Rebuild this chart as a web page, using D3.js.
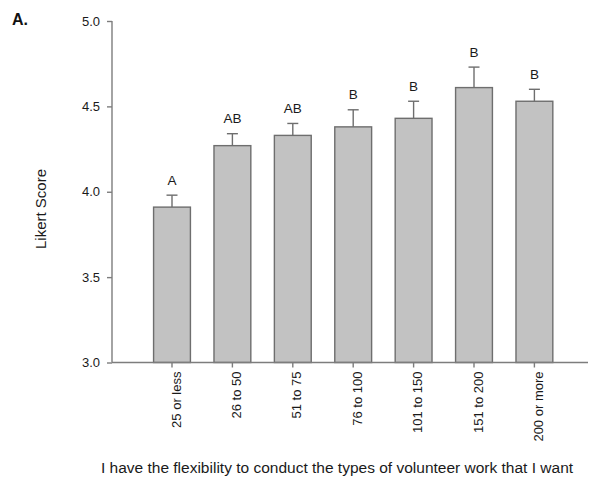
<!DOCTYPE html>
<html>
<head>
<meta charset="utf-8">
<script src="https://cdn.jsdelivr.net/npm/d3@7"></script>
<style>
  html, body { margin: 0; padding: 0; background: #fff; }
  svg { display: block; font-family: "Liberation Sans", Arial, sans-serif; }
</style>
</head>
<body>
<svg id="chart" width="592" height="478"></svg>
<script>
// Hours volunteered per year (groups) and mean Likert score with SE
const categories = ["25 or less", "26 to 50", "51 to 75", "76 to 100", "101 to 150", "151 to 200", "200 or more"];
const means      = [3.91, 4.27, 4.33, 4.38, 4.43, 4.61, 4.53];
const errors     = [0.07, 0.07, 0.07, 0.10, 0.10, 0.12, 0.07];
const groups     = ["A", "AB", "AB", "B", "B", "B", "B"];
const yTicks     = [3.0, 3.5, 4.0, 4.5, 5.0];

const svg = d3.select("#chart");
const axisColor = "#7d7d7d";
const textColor = "#1a1a1a";

const y = d3.scaleLinear().domain([3.0, 5.0]).range([362.5, 21]);
const x = d3.scaleBand().domain(categories).range([141.8, 564.6])
  .paddingInner(0.39).paddingOuter(0.195);

// Panel letter
svg.append("text").attr("x", 12).attr("y", 24.5)
  .attr("font-size", 16).attr("font-weight", "bold").attr("fill", "#111")
  .text("A.");

// Bars
svg.append("g").selectAll("rect").data(categories).join("rect")
  .attr("x", d => x(d))
  .attr("y", (d, i) => y(means[i]))
  .attr("width", x.bandwidth())
  .attr("height", (d, i) => y(3.0) - y(means[i]))
  .attr("fill", "#c2c2c2")
  .attr("stroke", "#6e6e6e")
  .attr("stroke-width", 1.4);

// Upper error bars
const eb = svg.append("g").attr("stroke", "#6e6e6e").attr("stroke-width", 1.4);
categories.forEach((c, i) => {
  const cx = x(c) + x.bandwidth() / 2;
  eb.append("line").attr("x1", cx).attr("x2", cx)
    .attr("y1", y(means[i])).attr("y2", y(means[i] + errors[i]));
  eb.append("line").attr("x1", cx - 5.5).attr("x2", cx + 5.5)
    .attr("y1", y(means[i] + errors[i])).attr("y2", y(means[i] + errors[i]));
});

// Significance group letters
svg.append("g").selectAll("text").data(categories).join("text")
  .attr("x", d => x(d) + x.bandwidth() / 2)
  .attr("y", (d, i) => y(means[i] + errors[i]) - 10.5)
  .attr("text-anchor", "middle")
  .attr("font-size", 13.5)
  .attr("fill", textColor)
  .text((d, i) => groups[i]);

// Y axis
const yAxis = svg.append("g").attr("transform", "translate(112,0)")
  .call(d3.axisLeft(y).tickValues(yTicks).tickFormat(d3.format(".1f"))
    .tickSize(5).tickPadding(7));
yAxis.select(".domain").attr("stroke", axisColor).attr("stroke-width", 1.4).attr("d", `M0,${y(5.0)}V${y(3.0)}`);
yAxis.selectAll(".tick line").attr("stroke", axisColor).attr("stroke-width", 1.4);
yAxis.selectAll(".tick text").attr("font-size", 13).attr("fill", textColor)
  .attr("font-family", "Liberation Sans, Arial, sans-serif");

// X axis
const xAxis = svg.append("g").attr("transform", `translate(0,${y(3.0)})`)
  .call(d3.axisBottom(x).tickSize(5).tickSizeOuter(0));
xAxis.select(".domain").attr("stroke", axisColor).attr("stroke-width", 1.4).attr("d", "M112,0H588");
xAxis.selectAll(".tick line").attr("stroke", axisColor).attr("stroke-width", 1.4);
xAxis.selectAll(".tick text")
  .attr("font-size", 13).attr("fill", textColor)
  .attr("font-family", "Liberation Sans, Arial, sans-serif")
  .attr("text-anchor", "end")
  .attr("transform", "rotate(-90)")
  .attr("x", -9).attr("y", 4).attr("dy", "0.35em")
  .attr("dx", 0);

// Axis titles
svg.append("text")
  .attr("transform", "translate(46,209) rotate(-90)")
  .attr("text-anchor", "middle").attr("font-size", 15).attr("fill", textColor)
  .text("Likert Score");

svg.append("text")
  .attr("x", 337).attr("y", 473)
  .attr("text-anchor", "middle").attr("font-size", 15.5).attr("fill", textColor)
  .text("I have the flexibility to conduct the types of volunteer work that I want");
</script>
</body>
</html>
